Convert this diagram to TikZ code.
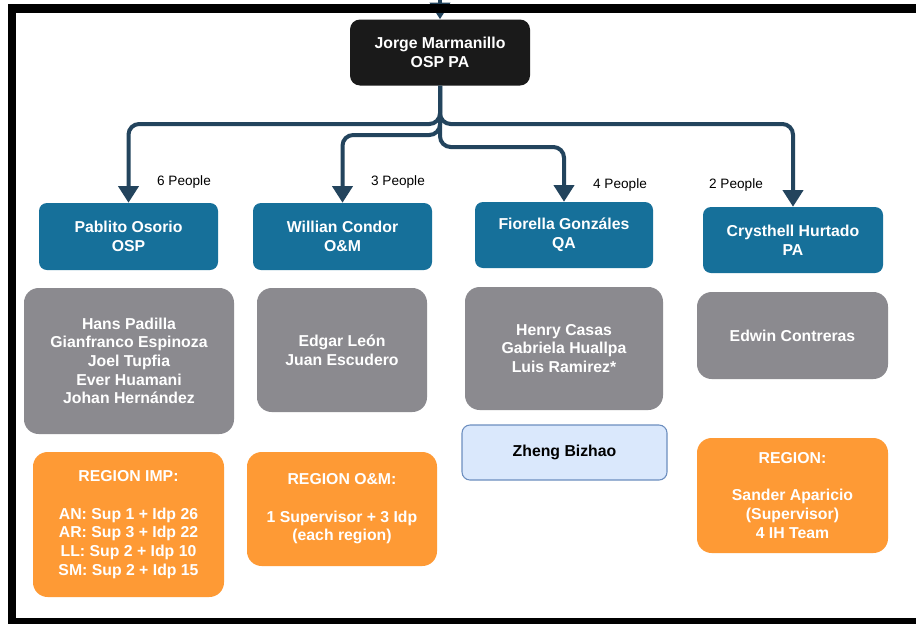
\documentclass[tikz,border=0pt]{standalone}
\usepackage{fontspec}
\setmainfont{Liberation Sans}
\usetikzlibrary{arrows.meta}
\definecolor{hdr}{HTML}{1A1A1A}
\definecolor{mgr}{HTML}{16709A}
\definecolor{grp}{HTML}{8B8A8F}
\definecolor{reg}{HTML}{FE9A35}
\definecolor{lbfill}{HTML}{DAE8FC}
\definecolor{lbline}{HTML}{6C8EBF}
\definecolor{edgec}{HTML}{23445D}
\tikzset{
  base/.style 2 args={inner sep=0pt, align=center, text=white,
    font=\bfseries\fontsize{11.85pt}{14pt}\selectfont,
    minimum width=#1*0.75pt, minimum height=#2*0.75pt},
  headbox/.style 2 args={base={#1}{#2}, fill=hdr, rounded corners=7.5pt},
  mgrbox/.style 2 args={base={#1}{#2}, fill=mgr, rounded corners=6pt},
  grpbox/.style 2 args={base={#1}{#2}, fill=grp, rounded corners=11pt},
  regbox/.style 2 args={base={#1}{#2}, fill=reg, rounded corners=11pt},
  extbox/.style 2 args={base={#1}{#2}, fill=lbfill, draw=lbline, line width=0.8pt, text=black, rounded corners=6pt},
  lbl/.style={inner sep=0pt, text=black, font=\fontsize{10.2pt}{12pt}\selectfont},
  conn/.style={draw=edgec, line width=3pt, rounded corners=8pt,
    -{Triangle[width=15pt,length=12.5pt]}},
}
\begin{document}
\begin{tikzpicture}[x=0.75pt,y=-0.75pt]
\useasboundingbox (0,0) rectangle (916,625);
\fill[white] (0,0) rectangle (916,625);

% head
\node[headbox={180}{66}] (jorge) at (440,52.5) {Jorge Marmanillo\\OSP PA};

% managers
\node[mgrbox={179}{67}] (pablito) at (128.5,236.5) {Pablito Osorio\\OSP};
\node[mgrbox={179}{67}] (willian) at (342.5,236.5) {Willian Condor\\O\&M};
\node[mgrbox={178}{66}] (fiorella) at (564,235) {Fiorella Gonzáles\\QA};
\node[mgrbox={180}{66}] (crysthell) at (793,240) {Crysthell Hurtado\\PA};

% teams
\node[grpbox={210}{146}] (g1) at (129,361) {Hans Padilla\\Gianfranco Espinoza\\Joel Tupfia\\Ever Huamani\\Johan Hernández};
\node[grpbox={170}{124}] (g2) at (342,350) {Edgar León\\Juan Escudero};
\node[grpbox={198}{123}] (g3) at (564,348.5) {Henry Casas\\Gabriela Huallpa\\Luis Ramirez*};
\node[grpbox={191}{87}] (g4) at (792.5,335.5) {Edwin Contreras};

% regions
\node[regbox={191}{145}] (o1) at (128.5,524.5) {REGION IMP:\\[14pt]AN: Sup 1 + Idp 26\\AR: Sup 3 + Idp 22\\LL: Sup 2 + Idp 10\\SM: Sup 2 + Idp 15};
\node[regbox={190}{114}] (o2) at (342,509) {REGION O\&M:\\[14pt]1 Supervisor + 3 Idp\\(each region)};
\node[regbox={191}{115}] (o3) at (792.5,495.5) {REGION:\\[14pt]Sander Aparicio\\(Supervisor)\\4 IH Team};
\node[extbox={205}{55}] (zheng) at (564.5,452.5) {Zheng Bizhao};

% labels
\node[lbl] (l6) at (184,182) {6 People};
\node[lbl] (l3) at (398,182) {3 People};
\node[lbl] (l4) at (620,185) {4 People};
\node[lbl] (l2) at (736,185) {2 People};

% connectors
\coordinate (hA) at (0,124);
\coordinate (hB) at (0,135);
\coordinate (hC) at (0,147);
\coordinate (topin) at (440,0);
\draw[conn] (topin) -- (jorge.north);
\draw[conn] (jorge.south) |- (pablito.north |- hA) -- (pablito.north);
\draw[conn] (jorge.south) |- (willian.north |- hB) -- (willian.north);
\draw[conn] (jorge.south) |- (fiorella.north |- hC) -- (fiorella.north);
\draw[conn] (jorge.south) |- (crysthell.north |- hA) -- (crysthell.north);

% frame
\fill[black] (8,4) rectangle (916,13);
\fill[black] (8,4) rectangle (16,624);
\fill[black] (8,618) rectangle (916,624);
\end{tikzpicture}
\end{document}
